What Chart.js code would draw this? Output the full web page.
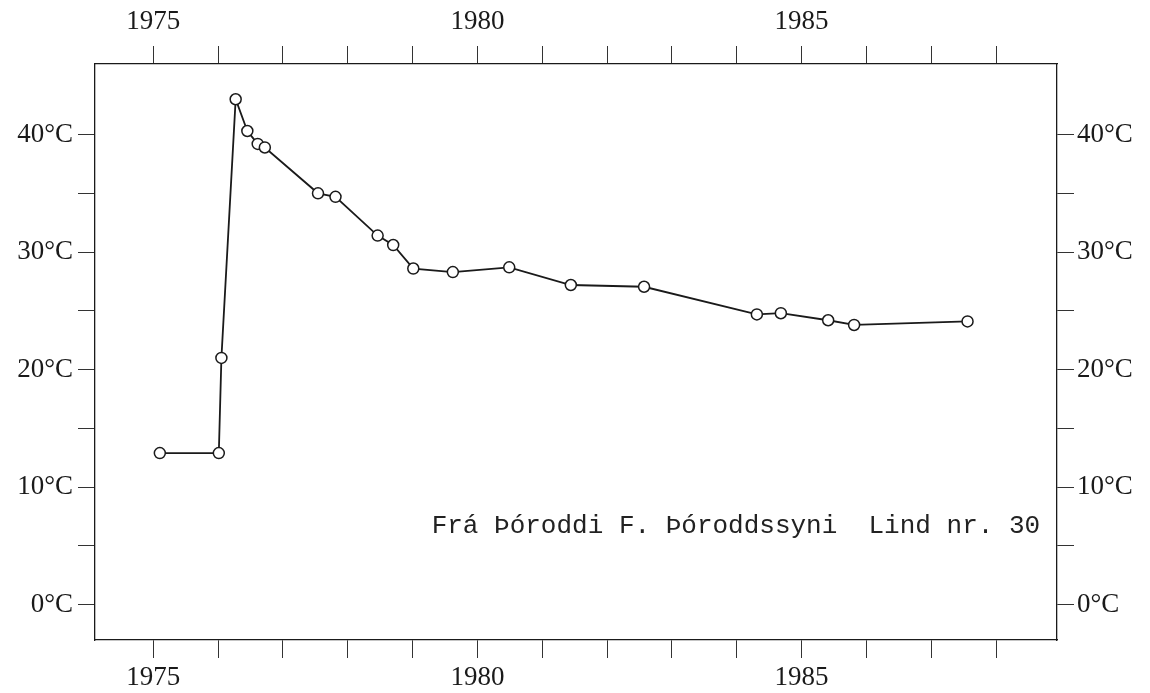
<!DOCTYPE html>
<html>
<head>
<meta charset="utf-8">
<title>Lind nr. 30</title>
<script src="https://cdn.jsdelivr.net/npm/chart.js@4.4.1/dist/chart.umd.min.js"></script>
<style>
    html, body { margin: 0; padding: 0; background: #fff; }
    #wrap { width: 1150px; height: 693px; }
</style>
</head>
<body>
<div id="wrap"><canvas id="tempChart" width="1150" height="693"></canvas></div>
<script>
// Measurement dates (decimal years) and water temperature (°C)
const years = [1975.10, 1976.01, 1976.05, 1976.27, 1976.45, 1976.61, 1976.72,
               1977.54, 1977.81, 1978.46, 1978.70, 1979.01, 1979.62, 1980.49,
               1981.44, 1982.57, 1984.31, 1984.68, 1985.41, 1985.81, 1987.56];
const temps = [12.9, 12.9, 21.0, 43.0, 40.3, 39.2, 38.9,
               35.0, 34.7, 31.4, 30.6, 28.6, 28.3, 28.7,
               27.2, 27.05, 24.7, 24.8, 24.2, 23.8, 24.1];

// Axis ticks
const yearTicks = [1975, 1976, 1977, 1978, 1979, 1980, 1981, 1982, 1983, 1984, 1985, 1986, 1987, 1988];
const yearLabels = [1975, 1980, 1985];
const tempTicks = [0, 5, 10, 15, 20, 25, 30, 35, 40];
const tempLabels = [0, 10, 20, 30, 40];

const noteText = 'Frá Þóroddi F. Þóroddssyni  Lind nr. 30';

document.addEventListener("DOMContentLoaded", function() {
    const ink = '#1a1a1a';
    const serif = { family: '"Liberation Serif", "DejaVu Serif", serif', size: 27 };

    // Fix the axis boxes so the plot frame lands where it does in the figure
    function fixWidth(w) { return function(scale) { scale.width = w; }; }
    function fixHeight(h) { return function(scale) { scale.height = h; }; }

    function xAxis(position, pad, size) {
        return {
            type: 'linear',
            position: position,
            min: 1974.1,
            max: 1988.94,
            afterBuildTicks: axis => { axis.ticks = yearTicks.map(v => ({ value: v })); },
            afterFit: fixHeight(size),
            ticks: {
                autoSkip: false,
                maxRotation: 0,
                padding: pad,
                color: ink,
                font: serif,
                callback: v => yearLabels.includes(v) ? String(v) : ''
            },
            grid: { drawOnChartArea: false, drawTicks: true, tickLength: 18, color: '#333', lineWidth: 1 },
            border: { display: true, color: ink, width: 1.3 }
        };
    }

    function yAxis(position, pad, size) {
        return {
            type: 'linear',
            position: position,
            min: -3,
            max: 46,
            afterBuildTicks: axis => { axis.ticks = tempTicks.map(v => ({ value: v })); },
            afterFit: fixWidth(size),
            ticks: {
                autoSkip: false,
                padding: pad,
                color: ink,
                font: serif,
                callback: v => tempLabels.includes(v) ? v + '°C' : ''
            },
            grid: { drawOnChartArea: false, drawTicks: true, tickLength: 17, color: '#333', lineWidth: 1 },
            border: { display: true, color: ink, width: 1.3 }
        };
    }

    // Writes the source note inside the plot area
    const notePlugin = {
        id: 'note',
        afterDraw(chart) {
            const ctx = chart.ctx;
            const xs = chart.scales.x;
            const ys = chart.scales.y;
            ctx.save();
            ctx.font = '26px "Liberation Mono", "DejaVu Sans Mono", monospace';
            ctx.fillStyle = '#222';
            ctx.textAlign = 'right';
            ctx.textBaseline = 'middle';
            ctx.fillText(noteText, xs.getPixelForValue(1988.68), ys.getPixelForValue(6.7));
            ctx.restore();
        }
    };

    const ctx = document.getElementById('tempChart').getContext('2d');
    new Chart(ctx, {
        type: 'line',
        data: {
            datasets: [{
                label: 'Hiti',
                data: years.map((yr, i) => ({ x: yr, y: temps[i] })),
                borderColor: ink,
                borderWidth: 1.8,
                tension: 0,
                fill: false,
                pointRadius: 5.5,
                pointBorderWidth: 1.5,
                pointBackgroundColor: '#fff',
                pointBorderColor: ink,
                xAxisID: 'x',
                yAxisID: 'y'
            }]
        },
        options: {
            responsive: false,
            animation: false,
            layout: { padding: 0 },
            plugins: {
                legend: { display: false },
                title: { display: false },
                tooltip: { enabled: false }
            },
            scales: {
                x: xAxis('bottom', 4, 53),
                x2: xAxis('top', 8, 64),
                y: yAxis('left', 5, 95),
                y2: yAxis('right', 3, 93)
            }
        },
        plugins: [notePlugin]
    });
});
</script>
</body>
</html>
